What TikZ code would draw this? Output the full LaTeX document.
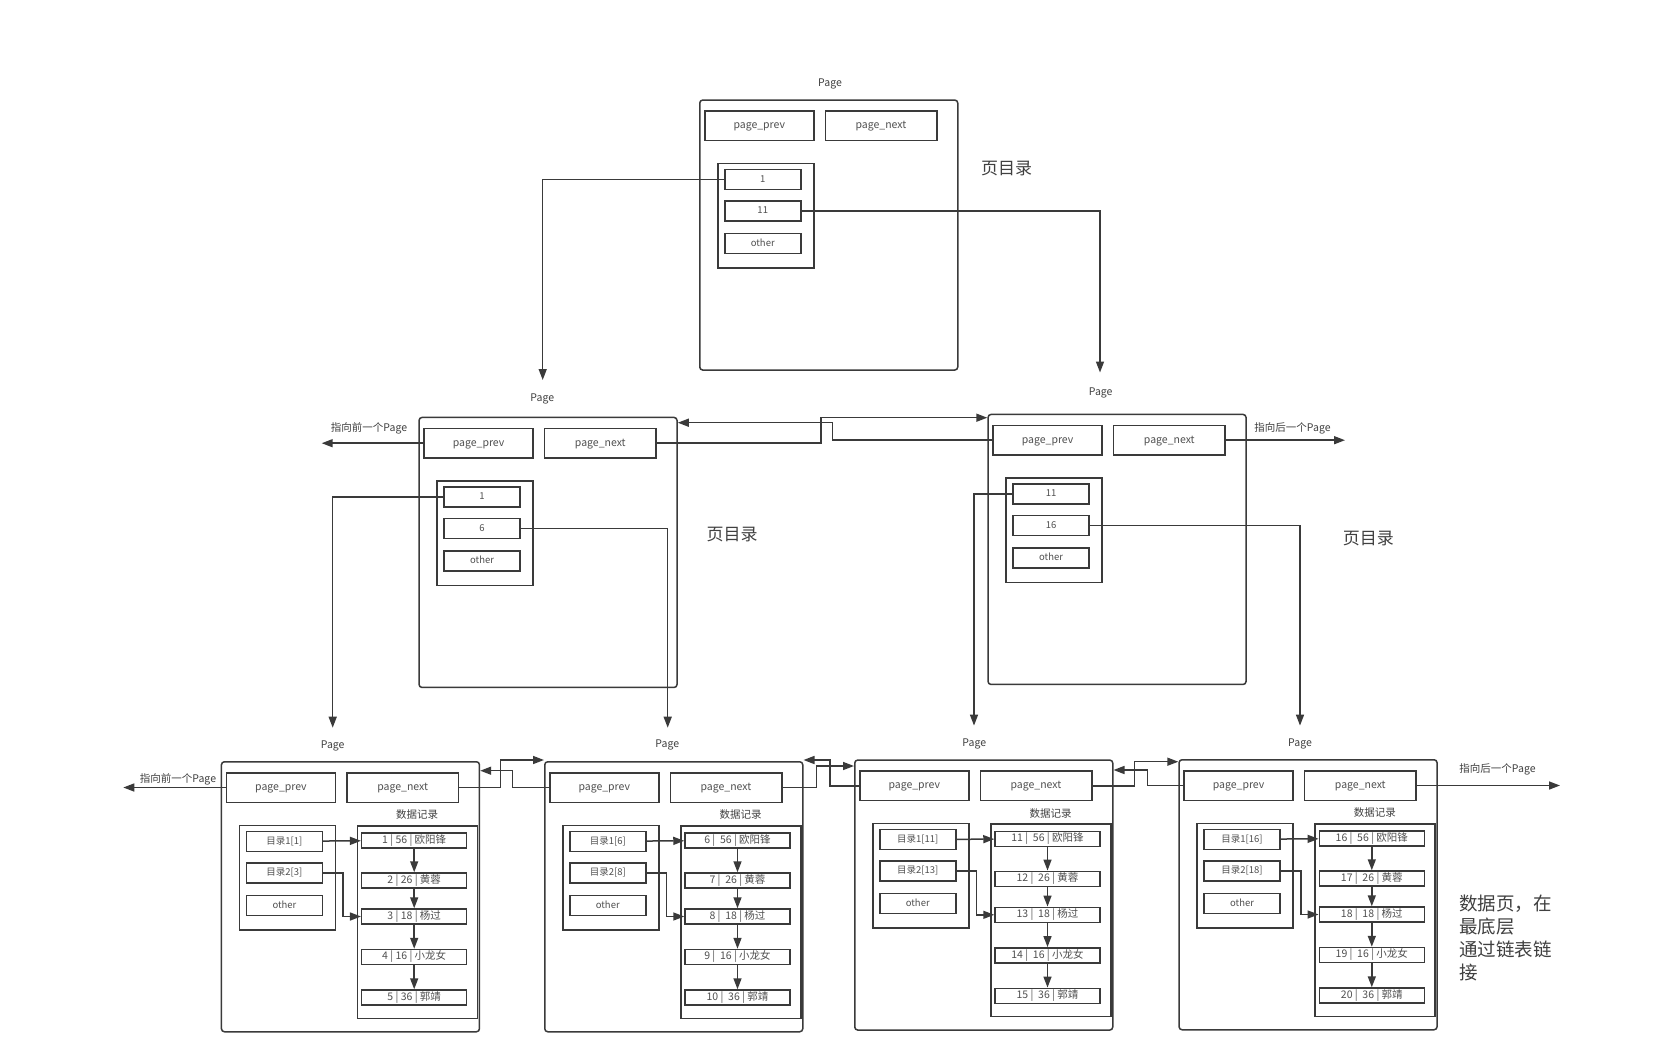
\documentclass[tikz,border=0pt]{standalone}
\usepackage{fontspec}
\setmainfont{Noto Sans CJK SC}
\usetikzlibrary{arrows.meta}
\definecolor{ln}{HTML}{3A3A3A}
\definecolor{tx}{HTML}{505050}
\definecolor{lb}{HTML}{404040}
\tikzset{
  box/.style={draw=ln, line width=1.5pt, inner sep=0pt, anchor=north west},
  vc/.style={text height=0.76em, text depth=0.2em},
  pg/.style={box, rounded corners=3pt, minimum width=258pt, minimum height=270pt},
  fld/.style={box, vc, minimum height=29.5pt, text=tx, font=\fontsize{10.5}{12}\selectfont},
  dirbox/.style={box, minimum width=96pt, minimum height=104.5pt},
  ent/.style={box, vc, minimum width=76pt, minimum height=20pt, text=tx, font=\fontsize{9.5}{11}\selectfont},
  databox/.style={box, minimum width=120pt, minimum height=192.5pt},
  rec/.style={draw=ln, vc, line width=1.5pt, inner sep=0pt, anchor=center, minimum width=105pt, minimum height=15pt, text=tx, font=\fontsize{10.5}{12}\selectfont},
  lbl/.style={vc, text=lb, inner sep=0pt, font=\fontsize{10.5}{12}\selectfont},
  big/.style={text=lb, inner sep=0pt, font=\fontsize{17}{20}\selectfont},
  arr/.style={draw=ln, line width=1.5pt, -{Triangle[length=11pt,width=8pt]}},
}
\newcommand\PgFrame[3]{%
  \node[pg] (#1) at (#2,#3) {};
  \node[fld, minimum width=109pt] (#1-prev) at ({#2+5},{#3+11}) {page\_prev};
  \node[fld, minimum width=111.5pt] (#1-next) at ({#2+125.5},{#3+11}) {page\_next};
  \node[dirbox] (#1-dir) at ({#2+18},{#3+63.5}) {};
}
\newcommand\PgEntries[6]{%
  \node[ent] (#1-e1) at ({#2+25},{#3+69.5}) {#4};
  \node[ent] (#1-e2) at ({#2+25},{#3+101}) {#5};
  \node[ent] (#1-e3) at ({#2+25},{#3+133.5}) {#6};
}
\newcommand\PgData[8]{%
  \node[databox] (#1-data) at ({#2+136},{#3+64}) {};
  \node[lbl] (#1-dlbl) at ({#2+196.5},{#3+55}) {数据记录};
  \node[rec] (#1-r1) at ({#2+193.5},{#3+79.5}) {#4};
  \node[rec] (#1-r2) at ({#2+193.5},{#3+119.5}) {#5};
  \node[rec] (#1-r3) at ({#2+193.5},{#3+155.5}) {#6};
  \node[rec] (#1-r4) at ({#2+193.5},{#3+196}) {#7};
  \node[rec] (#1-r5) at ({#2+193.5},{#3+236.5}) {#8};
  \draw[arr] (#1-r1) -- (#1-r2);
  \draw[arr] (#1-r2) -- (#1-r3);
  \draw[arr] (#1-r3) -- (#1-r4);
  \draw[arr] (#1-r4) -- (#1-r5);
  \draw[arr] (#1-e1) -- (#1-r1);
  \draw[arr] (#1-e2.east) -- ++(20,0) |- (#1-r3.west);
}
\begin{document}
\begin{tikzpicture}[x=1pt,y=-1pt]
\useasboundingbox[fill=white] (0,0) rectangle (1678,1054);
% ---------- top page ----------
\PgFrame{top}{699}{99.3}
\PgEntries{top}{699}{99.3}{1}{11}{other}
\node[lbl] (top-lbl) at (830,84) {Page};
\node[big] (top-note) at (1006.7,168.3) {页目录};
% ---------- middle pages ----------
\PgFrame{midL}{418.3}{416.7}
\PgEntries{midL}{418.3}{416.7}{1}{6}{other}
\node[lbl] (midL-lbl) at (542.3,398.3) {Page};
\node[big] (midL-note) at (732,535) {页目录};
\PgFrame{midR}{987.3}{413.7}
\PgEntries{midR}{987.3}{413.7}{11}{16}{other}
\node[lbl] (midR-lbl) at (1100.7,392.3) {Page};
\node[big] (midR-note) at (1368.3,538.3) {页目录};
\node[lbl] (midL-prevlbl) at (369,429) {指向前一个Page};
\node[lbl] (midR-nextlbl) at (1292.5,428.3) {指向后一个Page};
% ---------- bottom pages ----------
\PgFrame{p1}{220.7}{761}
\PgEntries{p1}{220.7}{761}{目录1[1]}{目录2[3]}{other}
\PgData{p1}{220.7}{761}{1 | 56 | 欧阳锋}{2 | 26 | 黄蓉}{3 | 18 | 杨过}{4 | 16 | 小龙女}{5 | 36 | 郭靖}
\node[lbl] (p1-lbl) at (332.7,746) {Page};
\PgFrame{p2}{544}{761}
\PgEntries{p2}{544}{761}{目录1[6]}{目录2[8]}{other}
\PgData{p2}{544}{761}{6 |\ \ 56 | 欧阳锋}{7 |\ \ 26 | 黄蓉}{8 |\ \ 18 | 杨过}{9 |\ \ 16 | 小龙女}{10 |\ \ 36 | 郭靖}
\node[lbl] (p2-lbl) at (667.3,745) {Page};
\PgFrame{p3}{854}{759.3}
\PgEntries{p3}{854}{759.3}{目录1[11]}{目录2[13]}{other}
\PgData{p3}{854}{759.3}{11 |\ \ 56 | 欧阳锋}{12 |\ \ 26 | 黄蓉}{13 |\ \ 18 | 杨过}{14 |\ \ 16 | 小龙女}{15 |\ \ 36 | 郭靖}
\node[lbl] (p3-lbl) at (974.3,743.3) {Page};
\PgFrame{p4}{1178.3}{759}
\PgEntries{p4}{1178.3}{759}{目录1[16]}{目录2[18]}{other}
\PgData{p4}{1178.3}{759}{16 |\ \ 56 | 欧阳锋}{17 |\ \ 26 | 黄蓉}{18 |\ \ 18 | 杨过}{19 |\ \ 16 | 小龙女}{20 |\ \ 36 | 郭靖}
\node[lbl] (p4-lbl) at (1300,743.3) {Page};
\node[lbl] (p1-prevlbl) at (178,779.3) {指向前一个Page};
\node[lbl] (p4-nextlbl) at (1497.5,770) {指向后一个Page};
\node[text=lb, inner sep=0pt, anchor=north west, align=left, font=\fontsize{18.5}{23}\selectfont] (note-data) at (1459,895) {数据页，在\\最底层\\通过链表链\\接};
% ---------- index pointers ----------
\coordinate (a1) at (542.7,380);
\coordinate (a2) at (1100,372.5);
\coordinate (a3) at (332.7,727.7);
\coordinate (a4) at (667.7,727.7);
\coordinate (a5) at (974,725.6);
\coordinate (a6) at (1300,725.6);
\draw[arr] (top-e1.west) -| (a1);
\draw[arr] (top-e2.east) -| (a2);
\draw[arr] (midL-e1.west) -| (a3);
\draw[arr] (midL-e2.east) -| (a4);
\draw[arr] (midR-e1.west) -| (a5);
\draw[arr] (midR-e2.east) -| (a6);
% ---------- middle linked list ----------
\coordinate (m1) at (821,417.7);
\coordinate (m2) at (832.7,422.7);
\coordinate (m3) at (321.7,0);
\coordinate (m4) at (1345,0);
\draw[arr] (midL-next.east) -| (m1) -- (midR.west |- m1);
\draw[arr] (midR-prev.west) -| (m2) -- (midL.east |- m2);
\draw[arr] (midL-prev.west) -- (m3 |- midL-prev.west);
\draw[arr] (midR-next.east) -- (m4 |- midR-next.east);
% ---------- bottom linked list ----------
\coordinate (b12) at (500.7,760);
\coordinate (b21) at (512.3,770.7);
\coordinate (b23) at (816.7,766);
\coordinate (b32) at (830,760);
\coordinate (b34) at (1134.3,761.7);
\coordinate (b43) at (1147.3,770);
\coordinate (b0) at (123.3,0);
\coordinate (b5) at (1560,0);
\draw[arr] (p1-next.east) -| (b12) -- (p2.west |- b12);
\draw[arr] (p2-prev.west) -| (b21) -- (p1.east |- b21);
\draw[arr] (p2-next.east) -| (b23) -- (p3.west |- b23);
\draw[arr] (p3-prev.west) -| (b32) -- (p2.east |- b32);
\draw[arr] (p3-next.east) -| (b34) -- (p4.west |- b34);
\draw[arr] (p4-prev.west) -| (b43) -- (p3.east |- b43);
\draw[arr] (p1-prev.west) -- (b0 |- p1-prev.west);
\draw[arr] (p4-next.east) -- (b5 |- p4-next.east);
\end{tikzpicture}
\end{document}
